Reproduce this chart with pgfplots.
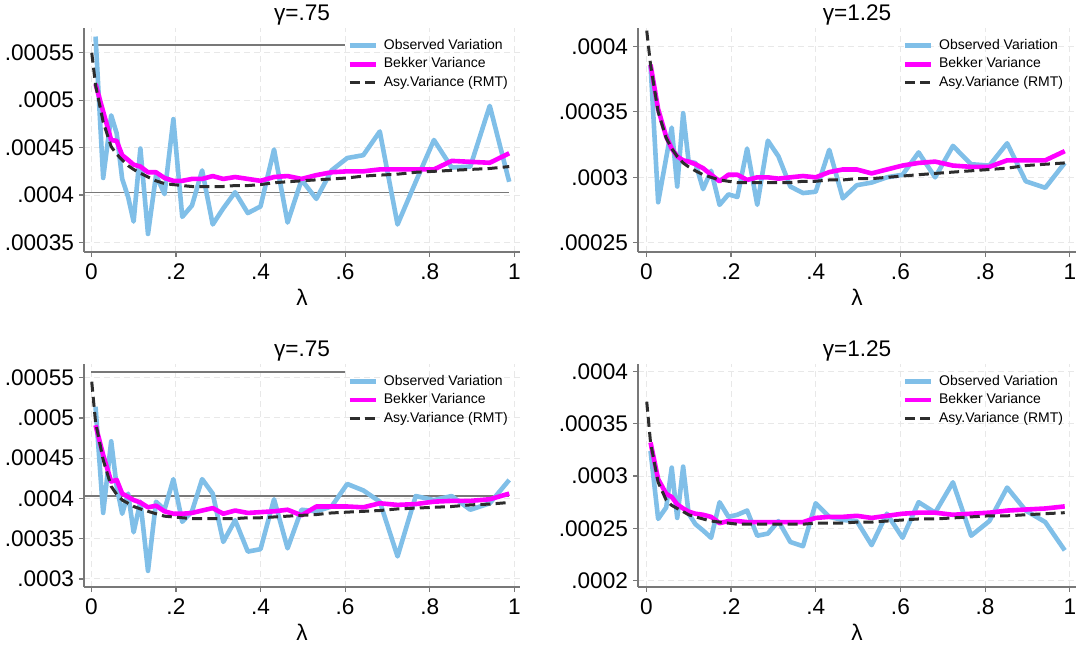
\documentclass[border=0pt]{standalone}
\usepackage{fontspec}
\setmainfont{Liberation Sans}
\usepackage{pgfplots}
\usepackage{pgfplotstable}
\pgfplotsset{compat=1.18}
\definecolor{obsblue}{RGB}{128,191,232}
\definecolor{bekmag}{RGB}{255,0,255}
\definecolor{rmtgray}{RGB}{45,45,45}
\definecolor{axgray}{RGB}{120,120,120}

\pgfplotstableread{
x obs bek rmt
0.001 nan nan 0.000550
0.010 0.000567 0.000517 0.000516
0.028 0.000418 0.000488 0.000477
0.047 0.000484 0.000458 0.000451
0.060 0.000465 0.000457 0.000443
0.073 0.000417 0.000442 0.000437
0.087 0.000398 0.000437 0.000431
0.100 0.000372 0.000432 0.000427
0.116 0.000449 0.000430 0.000423
0.134 0.000359 0.000424 0.000419
0.153 0.000421 0.000424 0.000415
0.173 0.000401 0.000418 0.000412
0.194 0.000480 0.000415 0.000411
0.215 0.000377 0.000415 0.000410
0.238 0.000389 0.000417 0.000409
0.262 0.000426 0.000417 0.000409
0.287 0.000369 0.000420 0.000409
0.312 0.000386 0.000417 0.000409
0.340 0.000403 0.000419 0.000410
0.370 0.000381 0.000417 0.000410
0.400 0.000388 0.000415 0.000411
0.432 0.000448 0.000419 0.000413
0.464 0.000371 0.000420 0.000414
0.497 0.000416 0.000417 0.000415
0.532 0.000396 0.000421 0.000416
0.568 0.000426 0.000424 0.000417
0.605 0.000439 0.000425 0.000418
0.643 0.000442 0.000425 0.000420
0.682 0.000467 0.000427 0.000421
0.724 0.000369 0.000427 0.000422
0.767 0.000414 0.000427 0.000424
0.810 0.000458 0.000427 0.000425
0.852 0.000429 0.000436 0.000426
0.896 0.000430 0.000435 0.000427
0.942 0.000494 0.000434 0.000428
0.988 0.000414 0.000444 0.000430
}\TL

\pgfplotstableread{
x obs bek rmt
0.001 nan nan 0.000412
0.010 0.000386 0.000386 0.000386
0.028 0.000281 0.000352 0.000350
0.047 0.000315 0.000331 0.000330
0.060 0.000338 0.000322 0.000322
0.073 0.000293 0.000316 0.000316
0.087 0.000349 0.000313 0.000311
0.100 0.000312 0.000312 0.000308
0.116 0.000311 0.000310 0.000305
0.134 0.000291 0.000307 0.000302
0.153 0.000305 0.000302 0.000300
0.173 0.000279 0.000297 0.000298
0.194 0.000287 0.000302 0.000297
0.215 0.000285 0.000302 0.000296
0.238 0.000322 0.000298 0.000296
0.262 0.000279 0.000300 0.000296
0.287 0.000328 0.000300 0.000296
0.312 0.000316 0.000299 0.000296
0.340 0.000293 0.000300 0.000296
0.370 0.000288 0.000301 0.000297
0.400 0.000289 0.000300 0.000297
0.432 0.000321 0.000304 0.000298
0.464 0.000284 0.000306 0.000298
0.497 0.000294 0.000306 0.000299
0.532 0.000296 0.000303 0.000299
0.568 0.000300 0.000306 0.000300
0.605 0.000302 0.000309 0.000301
0.643 0.000319 0.000311 0.000302
0.682 0.000300 0.000312 0.000303
0.724 0.000324 0.000309 0.000304
0.767 0.000310 0.000308 0.000305
0.810 0.000309 0.000308 0.000306
0.852 0.000326 0.000313 0.000307
0.896 0.000297 0.000313 0.000309
0.942 0.000292 0.000313 0.000310
0.988 0.000311 0.000320 0.000311
}\TR

\pgfplotstableread{
x obs bek rmt
0.001 nan nan 0.000545
0.010 0.000514 0.000491 0.000495
0.028 0.000382 0.000454 0.000448
0.047 0.000471 0.000421 0.000415
0.060 0.000415 0.000423 0.000405
0.073 0.000381 0.000406 0.000398
0.087 0.000406 0.000402 0.000394
0.100 0.000358 0.000398 0.000390
0.116 0.000396 0.000395 0.000387
0.134 0.000310 0.000389 0.000384
0.153 0.000396 0.000391 0.000381
0.173 0.000386 0.000384 0.000378
0.194 0.000424 0.000381 0.000377
0.215 0.000371 0.000381 0.000376
0.238 0.000384 0.000382 0.000375
0.262 0.000424 0.000385 0.000375
0.287 0.000406 0.000388 0.000375
0.312 0.000346 0.000381 0.000375
0.340 0.000373 0.000385 0.000375
0.370 0.000334 0.000382 0.000376
0.400 0.000337 0.000383 0.000376
0.432 0.000399 0.000384 0.000377
0.464 0.000338 0.000386 0.000378
0.497 0.000386 0.000379 0.000379
0.532 0.000384 0.000390 0.000380
0.568 0.000390 0.000390 0.000382
0.605 0.000418 0.000390 0.000383
0.643 0.000410 0.000389 0.000384
0.682 0.000396 0.000394 0.000385
0.724 0.000328 0.000392 0.000387
0.767 0.000403 0.000393 0.000388
0.810 0.000398 0.000396 0.000389
0.852 0.000403 0.000397 0.000390
0.896 0.000386 0.000397 0.000392
0.942 0.000394 0.000399 0.000393
0.988 0.000423 0.000406 0.000395
}\BL

\pgfplotstableread{
x obs bek rmt
0.001 nan nan 0.000371
0.010 0.000324 0.000332 0.000332
0.028 0.000259 0.000297 0.000294
0.047 0.000270 0.000283 0.000277
0.060 0.000308 0.000280 0.000272
0.073 0.000260 0.000273 0.000269
0.087 0.000309 0.000269 0.000266
0.100 0.000264 0.000266 0.000263
0.116 0.000254 0.000264 0.000261
0.134 0.000248 0.000263 0.000259
0.153 0.000241 0.000261 0.000257
0.173 0.000275 0.000255 0.000256
0.194 0.000261 0.000257 0.000255
0.215 0.000263 0.000257 0.000254
0.238 0.000267 0.000256 0.000254
0.262 0.000243 0.000256 0.000254
0.287 0.000245 0.000256 0.000254
0.312 0.000257 0.000256 0.000254
0.340 0.000237 0.000256 0.000254
0.370 0.000233 0.000256 0.000254
0.400 0.000274 0.000260 0.000255
0.432 0.000261 0.000261 0.000255
0.464 0.000258 0.000261 0.000255
0.497 0.000257 0.000262 0.000256
0.532 0.000234 0.000260 0.000256
0.568 0.000264 0.000262 0.000257
0.605 0.000241 0.000264 0.000258
0.643 0.000275 0.000265 0.000259
0.682 0.000265 0.000265 0.000259
0.724 0.000294 0.000263 0.000260
0.767 0.000243 0.000264 0.000261
0.810 0.000257 0.000265 0.000262
0.852 0.000289 0.000267 0.000262
0.896 0.000267 0.000268 0.000263
0.942 0.000256 0.000269 0.000264
0.988 0.000229 0.000271 0.000265
}\BR

\pgfplotsset{
  statapanel/.style={
    scale only axis, height=112pt,
    anchor=south west,
    axis lines*=left,
    axis line style={draw=axgray, line width=0.6pt},
    tick align=outside, major tick length=2.5pt,
    tick style={draw=axgray, line width=0.6pt},
    scaled y ticks=false, scaled x ticks=false,
    xtick={0,0.2,0.4,0.6,0.8,1},
    xticklabels={0,.2,.4,.6,.8,1},
    grid=major,
    major grid style={draw=black!9, dash pattern=on 3pt off 2pt, line width=0.5pt},
    ticklabel style={font=\fontsize{11.3}{13}\selectfont},
    yticklabel style={xshift=1pt},
    title style={font=\fontsize{11.3}{13}\selectfont, yshift=-8pt},
    xlabel={λ},
    xlabel style={font=\fontsize{11.3}{13}\selectfont, yshift=2.5pt},
    legend style={at={(0.603,0.962)}, anchor=north west, draw=none, fill=none,
      font=\fontsize{7}{8}\selectfont, row sep=0.45pt, column sep=2pt, inner sep=0pt,
      nodes={inner sep=1pt, text height=5.2pt, text depth=1.6pt}},
    legend cell align=left,
    legend image code/.code={\draw[##1] (0pt,0pt) -- (13pt,0pt);},
  },
  obsline/.style={color=obsblue, line width=2.3pt, line join=round},
  bekline/.style={color=bekmag, line width=2.3pt, line join=round},
  rmtline/.style={color=rmtgray, line width=1.5pt, dash pattern=on 5pt off 2.6pt},
  refline/.style={color=axgray, line width=0.7pt, forget plot},
}

\begin{document}
\begin{tikzpicture}
% top left
\begin{axis}[statapanel, at={(42pt,196.5pt)}, width=218pt,
  xmin=-0.0173, xmax=1.0135, ymin=0.00034, ymax=0.000576,
  ytick={0.00035,0.0004,0.00045,0.0005,0.00055},
  yticklabels={.00035,.0004,.00045,.0005,.00055},
  title={γ=.75}]
\addplot[refline] coordinates {(0.002,0.000558) (0.6,0.000558)};
\addplot[refline] coordinates {(-0.0173,0.000403) (0.988,0.000403)};
\addplot[obsline] table[x=x,y=obs]{\TL};
\addplot[bekline] table[x=x,y=bek]{\TL};
\addplot[rmtline] table[x=x,y=rmt]{\TL};
\legend{Observed Variation, Bekker Variance, Asy.Variance (RMT)}
\end{axis}
% top right
\begin{axis}[statapanel, at={(319pt,196.5pt)}, width=219pt,
  xmin=-0.0196, xmax=1.0146, ymin=0.000243, ymax=0.000414,
  ytick={0.00025,0.0003,0.00035,0.0004},
  yticklabels={.00025,.0003,.00035,.0004},
  title={γ=1.25}]
\addplot[obsline] table[x=x,y=obs]{\TR};
\addplot[bekline] table[x=x,y=bek]{\TR};
\addplot[rmtline] table[x=x,y=rmt]{\TR};
\legend{Observed Variation, Bekker Variance, Asy.Variance (RMT)}
\end{axis}
% bottom left
\begin{axis}[statapanel, at={(42pt,29pt)}, width=218pt, height=111.5pt,
  xmin=-0.0173, xmax=1.0135, ymin=0.00029, ymax=0.000567,
  ytick={0.0003,0.00035,0.0004,0.00045,0.0005,0.00055},
  yticklabels={.0003,.00035,.0004,.00045,.0005,.00055},
  title={γ=.75}]
\addplot[refline] coordinates {(0.0,0.000557) (0.6,0.000557)};
\addplot[refline] coordinates {(-0.0173,0.000403) (0.988,0.000403)};
\addplot[obsline] table[x=x,y=obs]{\BL};
\addplot[bekline] table[x=x,y=bek]{\BL};
\addplot[rmtline] table[x=x,y=rmt]{\BL};
\legend{Observed Variation, Bekker Variance, Asy.Variance (RMT)}
\end{axis}
% bottom right
\begin{axis}[statapanel, at={(319pt,29pt)}, width=219pt, height=111.5pt,
  xmin=-0.0196, xmax=1.0146, ymin=0.000194, ymax=0.000407,
  ytick={0.0002,0.00025,0.0003,0.00035,0.0004},
  yticklabels={.0002,.00025,.0003,.00035,.0004},
  title={γ=1.25}]
\addplot[obsline] table[x=x,y=obs]{\BR};
\addplot[bekline] table[x=x,y=bek]{\BR};
\addplot[rmtline] table[x=x,y=rmt]{\BR};
\legend{Observed Variation, Bekker Variance, Asy.Variance (RMT)}
\end{axis}
\pgfresetboundingbox
\path[use as bounding box] (0,0) rectangle (538pt,322.5pt);
\end{tikzpicture}
\end{document}
